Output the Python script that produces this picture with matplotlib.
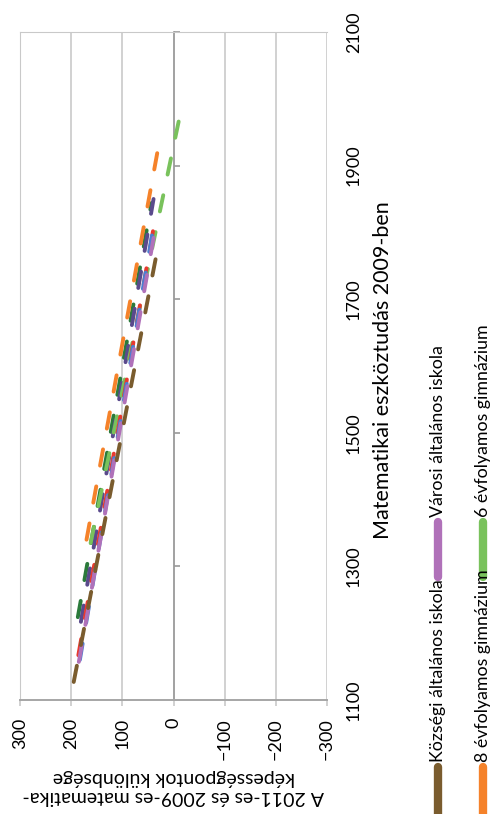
import matplotlib
matplotlib.use("Agg")
import matplotlib.pyplot as plt
from matplotlib.lines import Line2D
import numpy as np

plt.rcParams['font.family'] = ['Lato', 'DejaVu Sans']
plt.rcParams['lines.scale_dashes'] = False

# series (only the first four are named in the visible part of the legend)
series_labels = ["Községi általános iskola", "Városi általános iskola",
                 "8 évfolyamos gimnázium", "6 évfolyamos gimnázium",
                 None, None, None, None]
series_colors = ["#7a5c2e", "#b071b9", "#f5822a", "#79c25c",
                 "#2b7a3b", "#5a4a8c", "#e83a2f", "#4b7fd1"]

# 2009 ability at the two ends of each line and the 2011-2009 difference there
ability_start = [1127, 1157, 1340, 1335, 1224, 1217, 1167, 1160]
ability_end = [1760, 1800, 1922, 1973, 1844, 1850, 1811, 1805]
diff_start = [195, 185, 170, 162, 187, 181, 186, 183]
diff_end = [35, 37, 31, -12, 43, 39, 38, 40]

draw_order = [4, 5, 2, 3, 6, 7, 1, 0]

W, H = 495, 814
fig = plt.figure(figsize=(W / 100, H / 100), dpi=100)
ax = fig.add_axes([20 / W, 1 - 700 / H, 307 / W, 668 / H])

# chart is drawn turned by 90 degrees: difference runs right-to-left, ability bottom-to-top
for i in draw_order:
    ax.plot([diff_start[i], diff_end[i]], [ability_start[i], ability_end[i]],
            color=series_colors[i], lw=2.8, dashes=(11.9, 15.2),
            dash_capstyle='round', zorder=3)

grid_col = '#c9c9c9'
ax.set_xlim(300, -300)
ax.set_xticks(np.arange(-300, 301, 100))
ax.set_ylim(1100, 2100)
ax.set_yticks(np.arange(1100, 2101, 200))
ax.grid(axis='x', color=grid_col, lw=1.2)
ax.grid(axis='y', visible=False)

ax.yaxis.tick_right()
ax.spines['right'].set_position(('data', 0))
ax.spines['right'].set_color('#9a9a9a')
ax.spines['right'].set_linewidth(1.2)
ax.spines['left'].set_color(grid_col)
ax.spines['top'].set_color(grid_col)
ax.spines['bottom'].set_color('#a6a6a6')
ax.spines['bottom'].set_linewidth(1.4)

ax.tick_params(axis='y', direction='out', length=4, width=1.2, color='#9a9a9a',
               pad=120, labelsize=13, labelrotation=90)
for t in ax.get_yticklabels():
    t.set_va('center')
ax.tick_params(axis='x', direction='out', length=4, width=1.2, color=grid_col,
               pad=9, labelsize=13, labelrotation=90)

ax.set_xlabel("A 2011-es és 2009-es matematika-\nképességpontok különbsége",
              fontsize=14, rotation=180, va='center', ha='center', linespacing=1.1)
ax.xaxis.set_label_coords(0.5, -(787 - 700) / 668)

ax.yaxis.set_label_position('right')
ax.set_ylabel("Matematikai eszköztudás 2009-ben", fontsize=15.5, rotation=90,
              va='center', ha='center')
ax.yaxis.set_label_coords((383 - 20) / 307, 0.5 - 4 / 668)

# legend, turned like the chart and cut by the figure edge
leg_x = [438, 438, 483, 483]
leg_y = [767, 522, 767, 522]
for k in range(4):
    x = leg_x[k] / W
    y0 = 1 - leg_y[k] / H
    y1 = 1 - (leg_y[k] + 55) / H
    fig.add_artist(Line2D([x, x], [y0, y1], transform=fig.transFigure,
                          color=series_colors[k], lw=6, solid_capstyle='round'))
    fig.text(x, 1 - (leg_y[k] - 5) / H, series_labels[k], rotation=90,
             ha='center', va='bottom', fontsize=12.8)

fig.savefig("out.png", dpi=100)
